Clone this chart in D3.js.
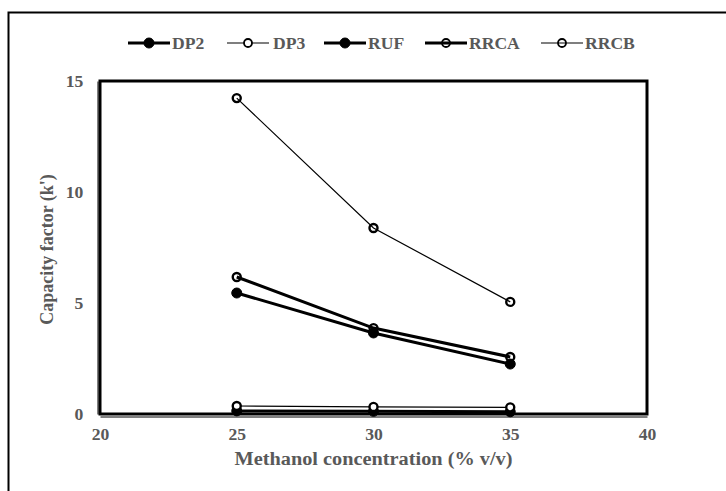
<!DOCTYPE html>
<html>
<head>
<meta charset="utf-8">
<script src="https://cdn.jsdelivr.net/npm/d3@7"></script>
<style>
  body { margin: 0; background: #fff; }
  text { font-family: "Liberation Serif", "Times New Roman", serif; font-weight: bold; fill: #595959; }
</style>
</head>
<body>
<div class="chart"></div>
<script>
// data
var conc = [25, 30, 35];
var dp2 = [0.14, 0.12, 0.10];
var dp3 = [0.36, 0.32, 0.30];
var ruf = [5.45, 3.65, 2.25];
var rrca = [6.17, 3.87, 2.57];
var rrcb = [14.23, 8.38, 5.05];
var xTicks = [20, 25, 30, 35, 40];
var yTicks = [0, 5, 10, 15];

var series = [
  {name: "DP2", values: dp2, marker: "filled", width: 3},
  {name: "DP3", values: dp3, marker: "open", width: 1.2},
  {name: "RUF", values: ruf, marker: "filled", width: 3},
  {name: "RRCA", values: rrca, marker: "ring", width: 3},
  {name: "RRCB", values: rrcb, marker: "ring", width: 1.2}
];

var margin = {top: 81, right: 79, bottom: 77, left: 100},
    width = 726 - margin.left - margin.right,
    height = 491 - margin.top - margin.bottom;

var stretch = "scale(1.1,1)";

var root = d3.select(".chart")
  .append("svg")
  .attr("width", 726)
  .attr("height", 491);

// outer frame (cropped at right and bottom)
root.append("path")
  .attr("d", "M8.5,491 V12.5 H726")
  .attr("fill", "none")
  .attr("stroke", "#000")
  .attr("stroke-width", 2);

var svg = root.append("g")
  .attr("transform", "translate(" + margin.left + "," + margin.top + ")");

var x = d3.scaleLinear().domain([20, 40]).range([0, width]);
var y = d3.scaleLinear().domain([0, 15]).range([height, 0]);

// plot border
svg.append("rect")
  .attr("width", width)
  .attr("height", height)
  .attr("fill", "none")
  .attr("stroke", "#000")
  .attr("stroke-width", 3);

// axes: thin line outside for the double look
svg.append("g")
  .attr("transform", "translate(0," + (height + 2.5) + ")")
  .call(d3.axisBottom(x).tickValues(xTicks).tickSize(0).tickPadding(12))
  .call(g => g.select(".domain").attr("stroke", "#000").attr("stroke-width", 1))
  .call(g => g.selectAll("text").style("font-size", "16px").attr("transform", stretch));

svg.append("g")
  .attr("transform", "translate(-2.5,0)")
  .call(d3.axisLeft(y).tickValues(yTicks).tickSize(0).tickPadding(13))
  .call(g => g.select(".domain").attr("stroke", "#000").attr("stroke-width", 1))
  .call(g => g.selectAll("text").style("font-size", "16px").attr("transform", stretch));

svg.selectAll(".tick text").attr("fill", "#595959");

// axis titles
svg.append("text")
  .attr("x", width / 2)
  .attr("y", height + 51)
  .attr("text-anchor", "middle")
  .attr("textLength", 278)
  .attr("lengthAdjust", "spacingAndGlyphs")
  .style("font-size", "18px")
  .text("Methanol concentration (% v/v)");

svg.append("text")
  .attr("text-anchor", "middle")
  .style("font-size", "18px")
  .attr("transform", "translate(-47," + (height / 2 + 2) + ")rotate(-90)")
  .text("Capacity factor (k')");

var line = d3.line()
  .x((d, i) => x(conc[i]))
  .y(d => y(d));

function drawMarker(sel, kind) {
  sel.attr("r", kind == "filled" ? 5 : 4)
    .attr("fill", kind == "filled" ? "#000" : (kind == "open" ? "#fff" : "none"))
    .attr("stroke", "#000")
    .attr("stroke-width", kind == "filled" ? 1 : 2.4);
}

series.forEach(function(s) {
  svg.append("path")
    .attr("d", line(s.values))
    .attr("fill", "none")
    .attr("stroke", "#000")
    .attr("stroke-width", s.width);

  svg.selectAll(null)
    .data(s.values)
    .enter()
    .append("circle")
    .attr("cx", (d, i) => x(conc[i]))
    .attr("cy", d => y(d))
    .call(drawMarker, s.marker);
});

// legend
var legendX = [128, 227, 324, 425, 541];
var legend = root.append("g").attr("transform", "translate(0,43)");
series.forEach(function(s, i) {
  var g = legend.append("g").attr("transform", "translate(" + legendX[i] + ",0)");
  g.append("line")
    .attr("x1", 0).attr("x2", 42)
    .attr("stroke", "#000")
    .attr("stroke-width", s.width);
  g.append("circle")
    .attr("cx", 21)
    .call(drawMarker, s.marker)
    .attr("stroke-width", s.marker == "filled" ? 1 : 1.8);
  g.append("text")
    .attr("transform", "translate(" + (s.name == "DP3" ? 46 : 44) + ",5.5)" + stretch)
    .style("font-size", "16px")
    .text(s.name);
});
</script>
</body>
</html>
